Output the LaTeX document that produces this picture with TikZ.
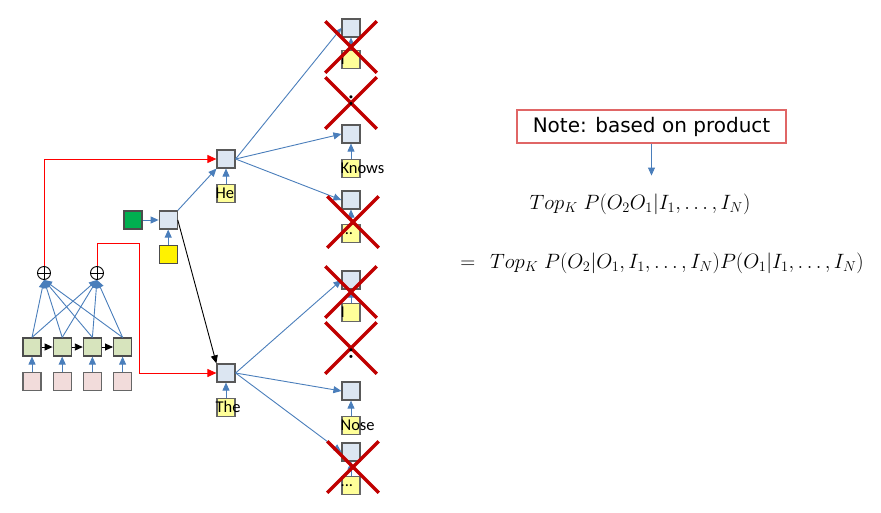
\documentclass[tikz,border=0pt]{standalone}
\usepackage{fontspec}
\usepackage{amsmath}
\newfontfamily\wordfont{Carlito}
\newfontfamily\notefont{DejaVu Sans}
\usetikzlibrary{positioning,arrows.meta,shapes.misc}
\definecolor{cellblue}{HTML}{DCE6F2}
\definecolor{encgreen}{HTML}{D7E4BD}
\definecolor{inpink}{HTML}{F2DCDB}
\definecolor{wordyellow}{HTML}{FFFF99}
\definecolor{lineblue}{HTML}{4A7EBB}
\definecolor{crossred}{HTML}{C00000}
\definecolor{notered}{HTML}{E06666}
\definecolor{startgreen}{HTML}{00B050}
\tikzstyle{cell}=[rectangle, draw=black!65, fill=cellblue, line width=1.2pt, minimum size=18pt, inner sep=0pt]
\tikzstyle{enc}=[rectangle, draw=black!70, fill=encgreen, line width=1.2pt, minimum size=18pt, inner sep=0pt]
\tikzstyle{inp}=[rectangle, draw=black!60, fill=inpink, line width=1.2pt, minimum size=18pt, inner sep=0pt]
\tikzstyle{word}=[rectangle, draw=black!60, fill=wordyellow, line width=1.2pt, minimum size=18pt, inner sep=0pt]
\tikzstyle{wtext}=[anchor=west, inner sep=0pt, xshift=-1pt, font=\wordfont\fontsize{16.5}{16}\selectfont]
\tikzstyle{xor}=[circle, draw=black, line width=0.9pt, minimum size=13pt, inner sep=0pt,
  path picture={\draw[line width=0.9pt] (path picture bounding box.north) -- (path picture bounding box.south)
  (path picture bounding box.west) -- (path picture bounding box.east);}]
\tikzstyle{nope}=[cross out, draw=crossred, line width=3.5pt, minimum width=48pt, minimum height=48pt, inner sep=0pt]
\tikzstyle{bline}=[-{Triangle[length=8pt,width=7pt]}, line width=0.9pt, lineblue]
\tikzstyle{kline}=[-{Triangle[length=8pt,width=7pt]}, line width=0.9pt, black]
\tikzstyle{rline}=[-{Triangle[length=9pt,width=8pt]}, line width=1pt, red]
\tikzstyle{dots}=[inner sep=0pt, font=\bfseries\fontsize{22}{22}\selectfont]
\begin{document}
\begin{tikzpicture}[x=1pt,y=-1pt]
  \useasboundingbox (0,0) rectangle (881,512);

% encoder
  \node (e1) [enc] at (32,347) {};
  \node (e2) [enc, right=11pt of e1] {};
  \node (e3) [enc, right=11pt of e2] {};
  \node (e4) [enc, right=11pt of e3] {};
  \foreach \i in {1,...,4}
    \node (p\i) [inp, below=15pt of e\i] {};

  \node (x1) [xor] at (44,273) {};
  \node (x2) [xor] at (97,273) {};

% decoder start
  \node (go) [rectangle, draw=black!70, fill=startgreen, line width=1.2pt, minimum size=18pt, inner sep=0pt] at (133,220) {};
  \node (d0) [cell, right=16pt of go] {};
  \node (y0) [rectangle, draw=black!70, fill=yellow, line width=1.2pt, minimum size=18pt, inner sep=0pt, below=15pt of d0] {};

  \node (he) [cell] at (226,159) {};
  \node (whe) [word, below=15pt of he, label={[wtext]west:He}] {};
  \node (the) [cell] at (226,373) {};
  \node (wthe) [word, below=15pt of the, label={[wtext]west:The}] {};

% second step, upper branch
  \node (t1) [cell] at (351,28) {};
  \node (wt1) [word, below=12pt of t1, label={[wtext]west:I}] {};
  \node (t2) [cell] at (351,134) {};
  \node (wt2) [word, below=15pt of t2, label={[wtext]west:Knows}] {};
  \node (t3) [cell] at (351,200) {};
  \node (wt3) [word, below=14pt of t3, label={[wtext]west:...}] {};

% second step, lower branch
  \node (b1) [cell] at (351,280) {};
  \node (wb1) [word, below=13pt of b1, label={[wtext]west:I}] {};
  \node (b2) [cell] at (351,391) {};
  \node (wb2) [word, below=15pt of b2, label={[wtext]west:Nose}] {};
  \node (b3) [cell] at (351,452) {};
  \node (wb3) [word, below=14pt of b3, label={[wtext]west:...}] {};

% note and formulas
  \node (note) [rectangle, draw=notered, line width=1.1pt, minimum width=269pt, minimum height=33pt,
    font=\notefont\fontsize{20}{20}\selectfont] at (651.5,126.5) {Note: based on product};
  \node (f1) [inner sep=0pt, font=\fontsize{22}{24}\selectfont] at (640,204)
    {$Top_K\;P(O_2O_1|I_1,\ldots,I_N)$};
  \node (f2) [inner sep=0pt, font=\fontsize{22}{24}\selectfont] at (662,263)
    {$=\;\,Top_K\;P(O_2|O_1,I_1,\ldots,I_N)P(O_1|I_1,\ldots,I_N)$};

% lines
  \foreach \i in {1,...,4}
    \draw[bline] (p\i.north) -- (e\i.south);
  \foreach \i/\j in {1/2,2/3,3/4}
    \draw[kline] (e\i.east) -- (e\j.west);
  \foreach \i in {1,...,4}
    \foreach \j in {1,2}
      \draw[bline] (e\i.north) -- (x\j.south);

  \draw[rline] (x1.north) |- (he.west);
  \draw[rline] (x2.north) |- ++(42,-23) |- (the.west);

  \draw[bline] (go.east) -- (d0.west);
  \draw[bline] (y0.north) -- (d0.south);
  \draw[bline] (d0.north east) -- (he.south west);
  \draw[kline] (d0.east) -- (the.north west);

  \draw[bline] (whe.north) -- (he.south);
  \draw[bline] (wthe.north) -- (the.south);
  \foreach \n in {t1,t2,t3,b1,b2,b3}
    \draw[bline] (w\n.north) -- (\n.south);

  \foreach \n in {t1,t2,t3}
    \draw[bline] (he.east) -- (\n.west);
  \foreach \n in {b1,b2,b3}
    \draw[bline] (the.east) -- (\n.west);

  \draw[bline] (note.south) -- ++(0,32);

% pruned
  \node (c1) [nope] at (351,47) {};
  \node (c2) [nope] at (351,103) {};
  \node (c3) [nope] at (353,222) {};
  \node (c4) [nope] at (351,292) {};
  \node (c5) [nope] at (351,348) {};
  \node (c6) [nope] at (353,467) {};
  \node (dt) [dots] at (351,101) {:};
  \node (db) [dots] at (351,354) {:};
\end{tikzpicture}
\end{document}
